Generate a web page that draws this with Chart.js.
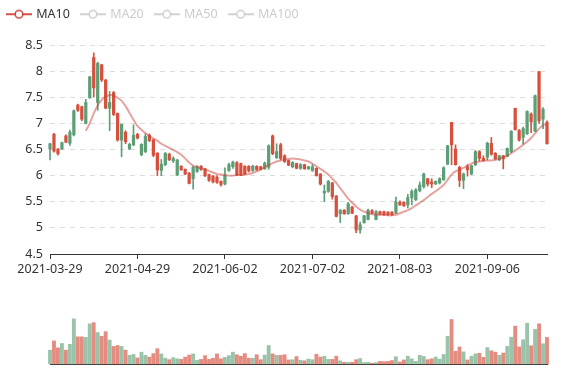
<!DOCTYPE html>
<html><head><meta charset="utf-8">
<script src="https://cdn.jsdelivr.net/npm/chart.js@4.4.0/dist/chart.umd.min.js"></script>
<style>
html,body{margin:0;padding:0;background:#fff;}
#wrap{position:relative;width:577px;height:380px;overflow:hidden;background:#fff;}
#price{position:absolute;left:0;top:0;}
#vol{position:absolute;left:0;top:290px;}
</style></head><body>
<div id="wrap"><canvas id="price" width="577" height="290"></canvas><canvas id="vol" width="577" height="90"></canvas></div>
<script>
const dates = [
'2021-03-29','2021-03-30','2021-03-31','2021-04-01','2021-04-02','2021-04-06','2021-04-07','2021-04-08','2021-04-09','2021-04-12',
'2021-04-13','2021-04-14','2021-04-15','2021-04-16','2021-04-19','2021-04-20','2021-04-21','2021-04-22','2021-04-23','2021-04-26',
'2021-04-27','2021-04-28','2021-04-29','2021-04-30','2021-05-05','2021-05-06','2021-05-07','2021-05-10','2021-05-11','2021-05-12',
'2021-05-13','2021-05-14','2021-05-17','2021-05-18','2021-05-19','2021-05-20','2021-05-21','2021-05-24','2021-05-25','2021-05-26',
'2021-05-27','2021-05-28','2021-05-31','2021-06-01','2021-06-02','2021-06-03','2021-06-04','2021-06-07','2021-06-08','2021-06-09',
'2021-06-10','2021-06-11','2021-06-14','2021-06-15','2021-06-16','2021-06-17','2021-06-18','2021-06-21','2021-06-22','2021-06-23',
'2021-06-24','2021-06-25','2021-06-28','2021-06-29','2021-06-30','2021-07-01','2021-07-02','2021-07-05','2021-07-06','2021-07-07',
'2021-07-08','2021-07-09','2021-07-12','2021-07-13','2021-07-14','2021-07-15','2021-07-16','2021-07-19','2021-07-20','2021-07-21',
'2021-07-22','2021-07-23','2021-07-26','2021-07-27','2021-07-28','2021-07-29','2021-07-30','2021-08-02','2021-08-03','2021-08-04',
'2021-08-05','2021-08-06','2021-08-09','2021-08-10','2021-08-11','2021-08-12','2021-08-13','2021-08-18','2021-08-19','2021-08-20',
'2021-08-23','2021-08-24','2021-08-25','2021-08-26','2021-08-27','2021-08-30','2021-08-31','2021-09-01','2021-09-02','2021-09-03',
'2021-09-06','2021-09-07','2021-09-08','2021-09-09','2021-09-10','2021-09-13','2021-09-14','2021-09-15','2021-09-16','2021-09-17',
'2021-09-22','2021-09-23','2021-09-24','2021-09-27','2021-09-28','2021-09-29'];

const tickLabels = ['2021-03-29','2021-04-29','2021-06-02','2021-07-02','2021-08-03','2021-09-06'];
const priceTicks = [4.5,5,5.5,6,6.5,7,7.5,8,8.5];

const openP = [
6.51,6.79,6.51,6.51,6.76,6.62,6.78,7.35,7.32,7.00,
7.49,8.26,7.40,8.12,7.83,7.29,7.59,7.19,6.68,6.83,
6.51,6.59,6.79,6.40,6.46,6.77,6.68,6.43,6.10,6.21,
6.41,6.28,6.01,6.18,6.12,6.05,5.94,6.08,6.18,6.13,
6.02,5.99,5.97,5.89,5.84,6.10,6.17,6.25,6.23,6.18,
6.18,6.10,6.18,6.17,6.13,6.16,6.76,6.34,6.59,6.38,
6.29,6.17,6.23,6.14,6.21,6.13,6.10,6.14,6.03,5.67,
5.70,5.86,5.61,5.27,5.34,5.27,5.40,5.23,4.96,5.10,
5.16,5.33,5.16,5.31,5.31,5.30,5.30,5.28,5.49,5.49,
5.44,5.58,5.54,5.71,5.79,5.94,5.88,5.84,5.86,5.92,
6.22,7.02,6.51,6.16,5.91,6.17,6.03,6.21,6.46,6.33,
6.35,6.62,6.43,6.30,6.38,6.37,6.46,7.29,6.87,6.73,
6.80,7.18,6.85,7.99,7.08,7.02];
const closeP = [
6.61,6.47,6.42,6.63,6.64,6.83,7.24,7.25,7.08,7.40,
7.89,7.68,8.15,7.83,7.29,7.40,7.17,6.68,6.98,6.65,
6.60,6.77,6.72,6.60,6.75,6.67,6.39,6.11,6.22,6.43,
6.30,6.33,6.30,6.11,6.03,5.85,6.16,6.17,6.12,6.00,
5.91,5.88,5.87,5.83,6.01,6.21,6.26,6.01,6.01,6.03,
6.09,6.18,6.11,6.12,6.24,6.57,6.42,6.46,6.33,6.27,
6.20,6.25,6.14,6.21,6.13,6.17,6.17,6.00,5.84,5.70,
5.89,5.60,5.22,5.34,5.27,5.46,5.28,4.96,5.06,5.23,
5.34,5.28,5.31,5.26,5.25,5.25,5.25,5.50,5.44,5.42,
5.58,5.70,5.73,5.82,6.03,5.84,5.84,5.89,5.94,6.15,
6.57,6.59,6.21,5.91,6.03,6.11,6.19,6.46,6.33,6.29,
6.62,6.41,6.32,6.38,6.32,6.52,6.85,6.88,6.68,6.90,
7.23,7.03,7.53,7.05,7.27,6.61];
const lowP = [
6.30,6.45,6.39,6.50,6.63,6.58,6.76,7.23,7.05,6.99,
7.48,7.51,7.25,7.80,7.28,6.86,7.15,6.66,6.36,6.61,
6.50,6.57,6.70,6.38,6.44,6.65,6.36,6.00,6.00,6.19,
6.29,6.25,6.00,6.10,6.02,5.84,5.74,6.06,6.10,5.98,
5.89,5.86,5.85,5.80,5.82,6.08,6.14,6.00,6.00,6.02,
6.07,6.08,6.10,6.11,6.12,6.12,6.40,6.33,6.30,6.25,
6.19,6.15,6.13,6.12,6.12,6.12,6.08,5.99,5.82,5.50,
5.68,5.55,5.21,5.10,5.26,5.26,5.27,4.91,4.90,5.09,
5.15,5.27,5.15,5.25,5.24,5.24,5.24,5.27,5.43,5.41,
5.38,5.44,5.52,5.69,5.76,5.80,5.77,5.83,5.84,5.91,
6.21,6.21,6.20,5.79,5.75,5.99,6.02,6.19,6.28,6.28,
6.30,6.39,6.31,6.29,6.13,6.36,6.44,6.87,6.66,6.60,
6.79,6.82,6.84,7.00,6.90,6.60];
const highP = [
6.62,6.81,6.52,6.64,6.78,6.87,7.26,7.37,7.33,7.46,
7.90,8.35,8.17,8.13,7.84,7.61,7.61,7.20,6.99,6.86,
6.62,6.97,6.81,6.61,6.80,6.80,6.70,6.44,6.31,6.44,
6.43,6.36,6.31,6.19,6.13,6.06,6.18,6.19,6.19,6.14,
6.03,6.00,6.00,5.90,6.15,6.24,6.28,6.27,6.24,6.19,
6.19,6.20,6.19,6.18,6.26,6.59,6.78,6.61,6.62,6.40,
6.30,6.27,6.24,6.23,6.22,6.18,6.21,6.15,6.04,5.82,
5.91,5.87,5.62,5.35,5.35,5.49,5.41,5.24,5.11,5.24,
5.36,5.35,5.33,5.32,5.32,5.31,5.31,5.59,5.52,5.50,
5.64,5.73,5.75,5.88,6.05,5.95,5.94,5.90,5.96,6.17,
6.58,7.02,6.59,6.18,6.05,6.21,6.20,6.48,6.48,6.38,
6.64,6.73,6.44,6.39,6.39,6.53,6.86,7.29,6.88,6.93,
7.24,7.20,7.54,7.99,7.30,7.05];

const ma10 = [
null,null,null,null,null,null,null,null,null,6.86,
7.00,7.19,7.34,7.45,7.51,7.54,7.53,7.49,7.43,7.33,
7.20,7.07,6.95,6.88,6.81,6.76,6.71,6.67,6.61,6.57,
6.53,6.49,6.45,6.40,6.33,6.25,6.19,6.16,6.14,6.12,
6.09,6.06,6.03,6.02,6.01,6.00,6.00,6.01,6.01,6.02,
6.03,6.05,6.08,6.12,6.16,6.20,6.24,6.27,6.29,6.31,
6.32,6.33,6.32,6.31,6.29,6.27,6.23,6.18,6.13,6.08,
6.02,5.94,5.86,5.76,5.66,5.56,5.48,5.41,5.35,5.31,
5.28,5.26,5.25,5.25,5.25,5.24,5.24,5.25,5.28,5.31,
5.34,5.38,5.43,5.48,5.53,5.59,5.65,5.70,5.76,5.82,
5.92,6.02,6.08,6.12,6.15,6.19,6.23,6.26,6.27,6.28,
6.29,6.29,6.30,6.32,6.35,6.38,6.43,6.48,6.53,6.59,
6.65,6.72,6.81,6.90,6.96,6.99];

const volume = [
48,80,56,71,48,68,156,94,94,92,
139,143,109,96,112,83,61,64,61,48,
30,33,21,41,30,24,36,53,35,20,
15,22,18,16,24,31,35,13,16,29,
16,20,35,18,23,29,41,32,27,36,
20,20,32,15,31,64,35,30,30,32,
14,15,26,13,11,17,15,34,24,27,
16,16,27,11,6,6,6,15,19,5,
6,3,5,9,8,9,12,25,7,14,
27,18,9,30,26,15,18,24,17,33,
96,154,44,59,42,14,27,35,37,23,
57,46,41,30,38,61,93,131,59,84,
141,63,120,139,70,92];

const legendNames = ['MA10','MA20','MA50','MA100'];
const legendActive = [true,false,false,false];

const UP = '#5c9e76', DOWN = '#d7503e';
const UP_VOL = 'rgba(92,158,118,0.62)', DOWN_VOL = 'rgba(215,80,62,0.66)';
const MA_COLOR = 'rgba(200,62,56,0.48)';
const isUp = i => closeP[i] >= openP[i];

Chart.defaults.font.family = "'Noto Sans', sans-serif";
Chart.defaults.font.size = 12.5;
Chart.defaults.color = '#333';

function legendIcon(color){
  const c = document.createElement('canvas');
  c.width = 26; c.height = 12;
  const g = c.getContext('2d');
  g.strokeStyle = color; g.lineWidth = 1.8;
  g.beginPath(); g.moveTo(0,6); g.lineTo(26,6); g.stroke();
  g.beginPath(); g.arc(13,6,3.8,0,Math.PI*2);
  g.fillStyle = '#fff'; g.fill();
  g.lineWidth = 1.4; g.stroke();
  return c;
}
const iconOn = legendIcon('#cc3d38');
const iconOff = legendIcon('#cccccc');

const legendGap = {
  id: 'legendGap',
  beforeLayout(chart){
    const lg = chart.legend;
    if (lg && !lg._gapPatched){
      const fit = lg.fit;
      lg.fit = function(){ fit.call(this); this.height += 14.5; };
      lg._gapPatched = true;
    }
  }
};

const bodies = dates.map((d,i) => [openP[i], closeP[i]]);
const wicks = dates.map((d,i) => [lowP[i], highP[i]]);

new Chart(document.getElementById('price'), {
  type: 'bar',
  data: {
    labels: dates,
    datasets: [
      { type: 'line', label: 'MA10', data: ma10, borderColor: MA_COLOR, borderWidth: 2,
        pointRadius: 0, tension: 0.3, fill: false, order: 0, spanGaps: false },
      { label: 'body', data: bodies, grouped: false, order: 1, barThickness: 2.6, borderSkipped: false,
        backgroundColor: c => isUp(c.dataIndex) ? UP : DOWN, clip: false },
      { label: 'wick', data: wicks, grouped: false, order: 2, barThickness: 1, borderSkipped: false,
        backgroundColor: c => isUp(c.dataIndex) ? UP : DOWN, clip: false }
    ]
  },
  options: {
    responsive: false, animation: false, devicePixelRatio: 1,
    layout: { padding: { left: -4, top: -4, right: 30, bottom: 10 } },
    plugins: {
      tooltip: { enabled: false },
      legend: {
        display: true, position: 'top', align: 'start', onClick: null,
        labels: {
          usePointStyle: true, pointStyleWidth: 22, padding: 12,
          generateLabels: () => legendNames.map((n,i) => ({
            text: n, hidden: false, datasetIndex: i,
            pointStyle: legendActive[i] ? iconOn : iconOff,
            fillStyle: 'rgba(0,0,0,0)', strokeStyle: 'rgba(0,0,0,0)', lineWidth: 0,
            fontColor: legendActive[i] ? '#333' : '#cccccc'
          }))
        }
      }
    },
    scales: {
      x: {
        type: 'category', offset: false,
        grid: { offset: false, drawOnChartArea: false, drawTicks: true, tickLength: 5,
                color: c => tickLabels.includes(dates[c.index]) ? '#333' : 'rgba(0,0,0,0)' },
        border: { display: true, color: '#333', width: 1 },
        ticks: { autoSkip: false, maxRotation: 0, minRotation: 0, padding: 3, color: '#333',
                 callback: function(v, i){ const d = dates[i]; return tickLabels.includes(d) ? d : ''; } }
      },
      y: {
        min: 4.5, max: 8.5,
        afterBuildTicks: s => { s.ticks = priceTicks.map(v => ({ value: v })); },
        afterFit: s => { s.width = 54; },
        grid: { color: '#dddddd', drawTicks: false, lineWidth: 1 },
        border: { display: false, dash: [5,5] },
        ticks: { padding: 7, color: '#333', callback: v => String(v) }
      }
    }
  },
  plugins: [legendGap]
});

new Chart(document.getElementById('vol'), {
  type: 'bar',
  data: {
    labels: dates,
    datasets: [
      { label: 'Volume', data: volume, barThickness: 3.2, clip: false,
        backgroundColor: c => isUp(c.dataIndex) ? UP_VOL : DOWN_VOL }
    ]
  },
  options: {
    responsive: false, animation: false, devicePixelRatio: 1,
    layout: { padding: { left: 50, right: 30, top: 22, bottom: 8 } },
    plugins: { legend: { display: false }, tooltip: { enabled: false } },
    scales: {
      x: { type: 'category', offset: false,
           grid: { display: false, offset: false },
           border: { display: true, color: '#333', width: 1 },
           ticks: { display: false } },
      y: { display: false, min: 0, max: 180 }
    }
  }
});
</script>
</body></html>
